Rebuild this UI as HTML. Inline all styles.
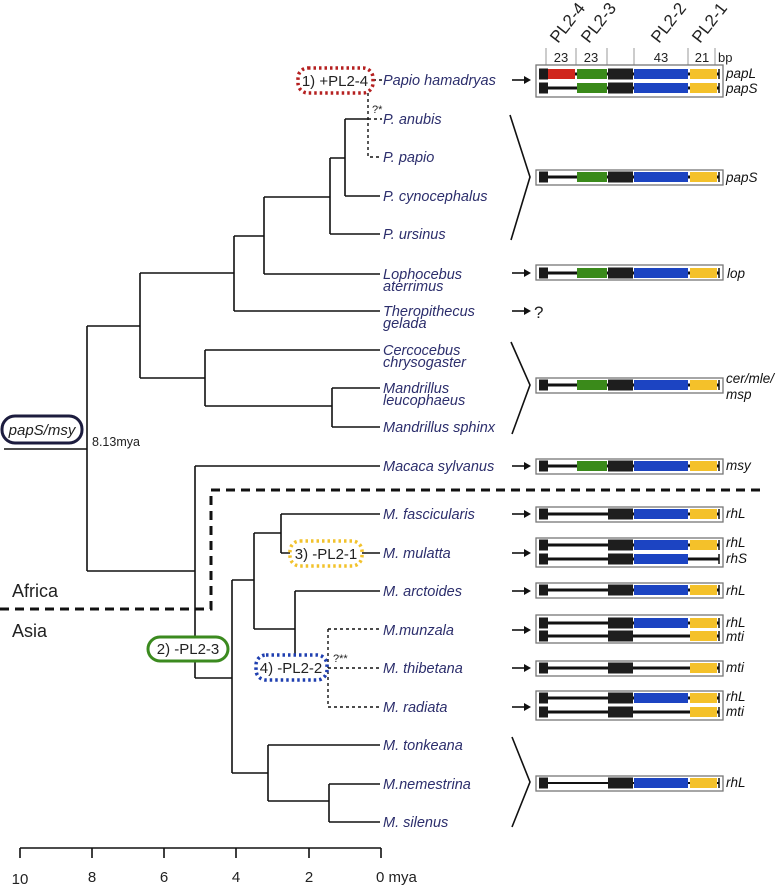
<!DOCTYPE html>
<html><head><meta charset="utf-8"><style>
html,body{margin:0;padding:0;background:#fff;}
svg{display:block;}
.sp{font-family:"Liberation Sans",sans-serif;font-style:italic;font-size:14.5px;fill:#2c2e6c;}
.gl{font-family:"Liberation Sans",sans-serif;font-style:italic;font-size:13.5px;fill:#111;}
.t{font-family:"Liberation Sans",sans-serif;fill:#222;}
</style></head><body>
<svg id="s" width="778" height="887" viewBox="0 0 778 887" xmlns="http://www.w3.org/2000/svg">
<g stroke="#111" stroke-width="1.6" fill="none">
<path d="M4 449H87M87 326V571M87 326H140M87 571H195"/>
<path d="M140 273V378M140 273H234M140 378H205"/>
<path d="M234 236V311M234 311H380M234 236H264"/>
<path d="M264 197V274M264 274H380M264 197H330"/>
<path d="M330 158V234M330 234H380M330 158H345"/>
<path d="M345 119V196M345 196H380M345 119H368"/>
<path d="M205 350V406M205 350H380M205 406H332"/>
<path d="M332 388V427M332 388H380M332 427H380"/>
<path d="M195 466V678M195 466H380M195 678H232"/>
<path d="M232 580V773M232 580H254M232 773H268"/>
<path d="M254 533V629M254 533H281M254 629H295"/>
<path d="M281 514V553M281 514H380M281 553H290M362 553H380"/>
<path d="M295 591V655M295 591H380"/>
<path d="M268 745V801M268 745H380M268 801H329"/>
<path d="M329 784V822M329 784H380M329 822H380"/>
<path d="M20 848H381M20 848V858M92 848V858M164 848V858M236 848V858M309 848V858M381 848V858"/>
</g>
<g stroke="#111" stroke-width="1.4" fill="none" stroke-dasharray="3,3">
<path d="M368 93V157H382M368 119H382M373 80H382"/>
<path d="M328 629V707M328 629H382M328 707H382M328 668H382"/>
</g>
<path d="M0 609H211V490H765" stroke="#111" stroke-width="3" fill="none" stroke-dasharray="9,6"/>
<rect x="298" y="68" width="75" height="25" rx="10" fill="#fff" stroke="#b52020" stroke-width="3.5" stroke-dasharray="2.5,3"/>
<text x="335" y="86" class="t" font-size="15" text-anchor="middle">1) +PL2-4</text>
<rect x="2" y="416" width="80" height="27" rx="13" fill="#fff" stroke="#1c1c3e" stroke-width="3"/>
<text x="42" y="435" class="t" font-size="15" font-style="italic" text-anchor="middle">papS/msy</text>
<text x="92" y="446" class="t" font-size="12.5" fill="#333">8.13mya</text>
<rect x="148" y="637" width="80" height="24" rx="12" fill="#fff" stroke="#3b8a1f" stroke-width="3"/>
<text x="188" y="654" class="t" font-size="15" text-anchor="middle">2) -PL2-3</text>
<rect x="290" y="541" width="72" height="25" rx="10" fill="#fff" stroke="#f2c22c" stroke-width="3.5" stroke-dasharray="2.5,3"/>
<text x="326" y="559" class="t" font-size="15" text-anchor="middle">3) -PL2-1</text>
<rect x="256" y="655" width="71" height="25" rx="10" fill="#fff" stroke="#1f3fb0" stroke-width="3.5" stroke-dasharray="2.5,3"/>
<text x="291" y="673" class="t" font-size="15" text-anchor="middle">4) -PL2-2</text>
<text x="372" y="113" class="t" font-size="11">?*</text>
<text x="333" y="662" class="t" font-size="11">?**</text>
<text x="12" y="597" class="t" font-size="18">Africa</text>
<text x="12" y="637" class="t" font-size="18">Asia</text>
<g class="t" font-size="15" text-anchor="middle">
<text x="20" y="884">10</text><text x="92" y="882">8</text><text x="164" y="882">6</text><text x="236" y="882">4</text><text x="309" y="882">2</text>
</g>
<text x="376" y="882" class="t" font-size="15">0 mya</text>
<g class="sp">
<text x="383" y="85">Papio hamadryas</text>
<text x="383" y="124">P. anubis</text>
<text x="383" y="162">P. papio</text>
<text x="383" y="201">P. cynocephalus</text>
<text x="383" y="239">P. ursinus</text>
<text x="383" y="279">Lophocebus</text><text x="383" y="291">aterrimus</text>
<text x="383" y="316">Theropithecus</text><text x="383" y="328">gelada</text>
<text x="383" y="355">Cercocebus</text><text x="383" y="367">chrysogaster</text>
<text x="383" y="393">Mandrillus</text><text x="383" y="405">leucophaeus</text>
<text x="383" y="432">Mandrillus sphinx</text>
<text x="383" y="471">Macaca sylvanus</text>
<text x="383" y="519">M. fascicularis</text>
<text x="383" y="558">M. mulatta</text>
<text x="383" y="596">M. arctoides</text>
<text x="383" y="635">M.munzala</text>
<text x="383" y="673">M. thibetana</text>
<text x="383" y="712">M. radiata</text>
<text x="383" y="750">M. tonkeana</text>
<text x="383" y="789">M.nemestrina</text>
<text x="383" y="827">M. silenus</text>
</g>
<g stroke="#111" stroke-width="1.6" fill="none">
<path d="M510 115L530 177L511 240"/>
<path d="M511 342L530 385L512 434"/>
<path d="M512 737L530 782L512 827"/>
</g>
<text x="534" y="318" class="t" font-size="17">?</text>
<g class="t" font-size="17">
<text transform="translate(558,44) rotate(-52)">PL2-4</text>
<text transform="translate(589,44) rotate(-52)">PL2-3</text>
<text transform="translate(659,44) rotate(-52)">PL2-2</text>
<text transform="translate(700,44) rotate(-52)">PL2-1</text>
</g>
<g stroke="#999" stroke-width="1">
<path d="M546 48V66M576 48V66M607 48V66M634 48V66M688 48V66M715 48V66"/>
</g>
<g class="t" font-size="13" text-anchor="middle">
<text x="561" y="62">23</text><text x="591" y="62">23</text><text x="661" y="62">43</text><text x="702" y="62">21</text>
</g>
<text x="718" y="62" class="t" font-size="13">bp</text>
<g id="genes"></g>
<g class="gl">
<text x="726" y="78">papL</text><text x="726" y="93">papS</text>
<text x="726" y="182">papS</text>
<text x="727" y="278">lop</text>
<text x="726" y="383">cer/mle/</text><text x="726" y="399">msp</text>
<text x="726" y="470">msy</text>
<text x="726" y="518">rhL</text>
<text x="726" y="547">rhL</text><text x="726" y="563">rhS</text>
<text x="726" y="595">rhL</text>
<text x="726" y="627">rhL</text><text x="726" y="641">mti</text>
<text x="726" y="672">mti</text>
<text x="726" y="701">rhL</text><text x="726" y="716">mti</text>
<text x="726" y="787">rhL</text>
</g>
</svg>
<script>
var NS="http://www.w3.org/2000/svg",g=document.getElementById("genes");
function el(n,a){var e=document.createElementNS(NS,n);for(var k in a)e.setAttribute(k,a[k]);g.appendChild(e);return e;}
function box(y1,y2){el("rect",{x:536,y:y1,width:187,height:y2-y1,fill:"#fff",stroke:"#777","stroke-width":1.3});}
function row(y,f){
 el("line",{x1:543,y1:y,x2:719,y2:y,stroke:"#111","stroke-width":f.thin?2:3});
 el("rect",{x:539,y:y-5.5,width:9,height:11,fill:"#1a1a1a"});
 if(f.r)el("rect",{x:548,y:y-5,width:27,height:10,fill:"#d0261c"});
 if(f.g)el("rect",{x:577,y:y-5,width:30,height:10,fill:"#3a8a1a"});
 el("rect",{x:608,y:y-5.5,width:25,height:11,fill:"#1e1e1e"});
 if(f.b)el("rect",{x:634,y:y-5,width:54,height:10,fill:"#1c44c2"});
 if(f.y)el("rect",{x:690,y:y-5,width:27,height:10,fill:"#f4c12a"});
 el("line",{x1:719,y1:y-5,x2:719,y2:y+5,stroke:"#111","stroke-width":1.5});
}
function arrow(y){el("line",{x1:512,y1:y,x2:526,y2:y,stroke:"#111","stroke-width":1.6});el("path",{d:"M524 "+(y-4)+"L531 "+y+"L524 "+(y+4)+"Z",fill:"#111"});}
box(65,97);row(74,{r:1,g:1,b:1,y:1});row(88,{g:1,b:1,y:1});
box(170,185);row(177,{g:1,b:1,y:1});
box(265,280);row(273,{g:1,b:1,y:1});
box(378,393);row(385,{g:1,b:1,y:1});
box(459,474);row(466,{g:1,b:1,y:1});
box(507,522);row(514,{b:1,y:1});
box(538,567);row(545,{b:1,y:1});row(559,{b:1});
box(583,598);row(590,{b:1,y:1});
box(615,643);row(623,{b:1,y:1});row(636,{y:1});
box(661,676);row(668,{y:1});
box(691,720);row(698,{b:1,y:1});row(712,{y:1});
box(776,791);row(783,{b:1,y:1,thin:1});
[80,273,311,466,514,553,591,630,668,707].forEach(arrow);
</script>
</body></html>
